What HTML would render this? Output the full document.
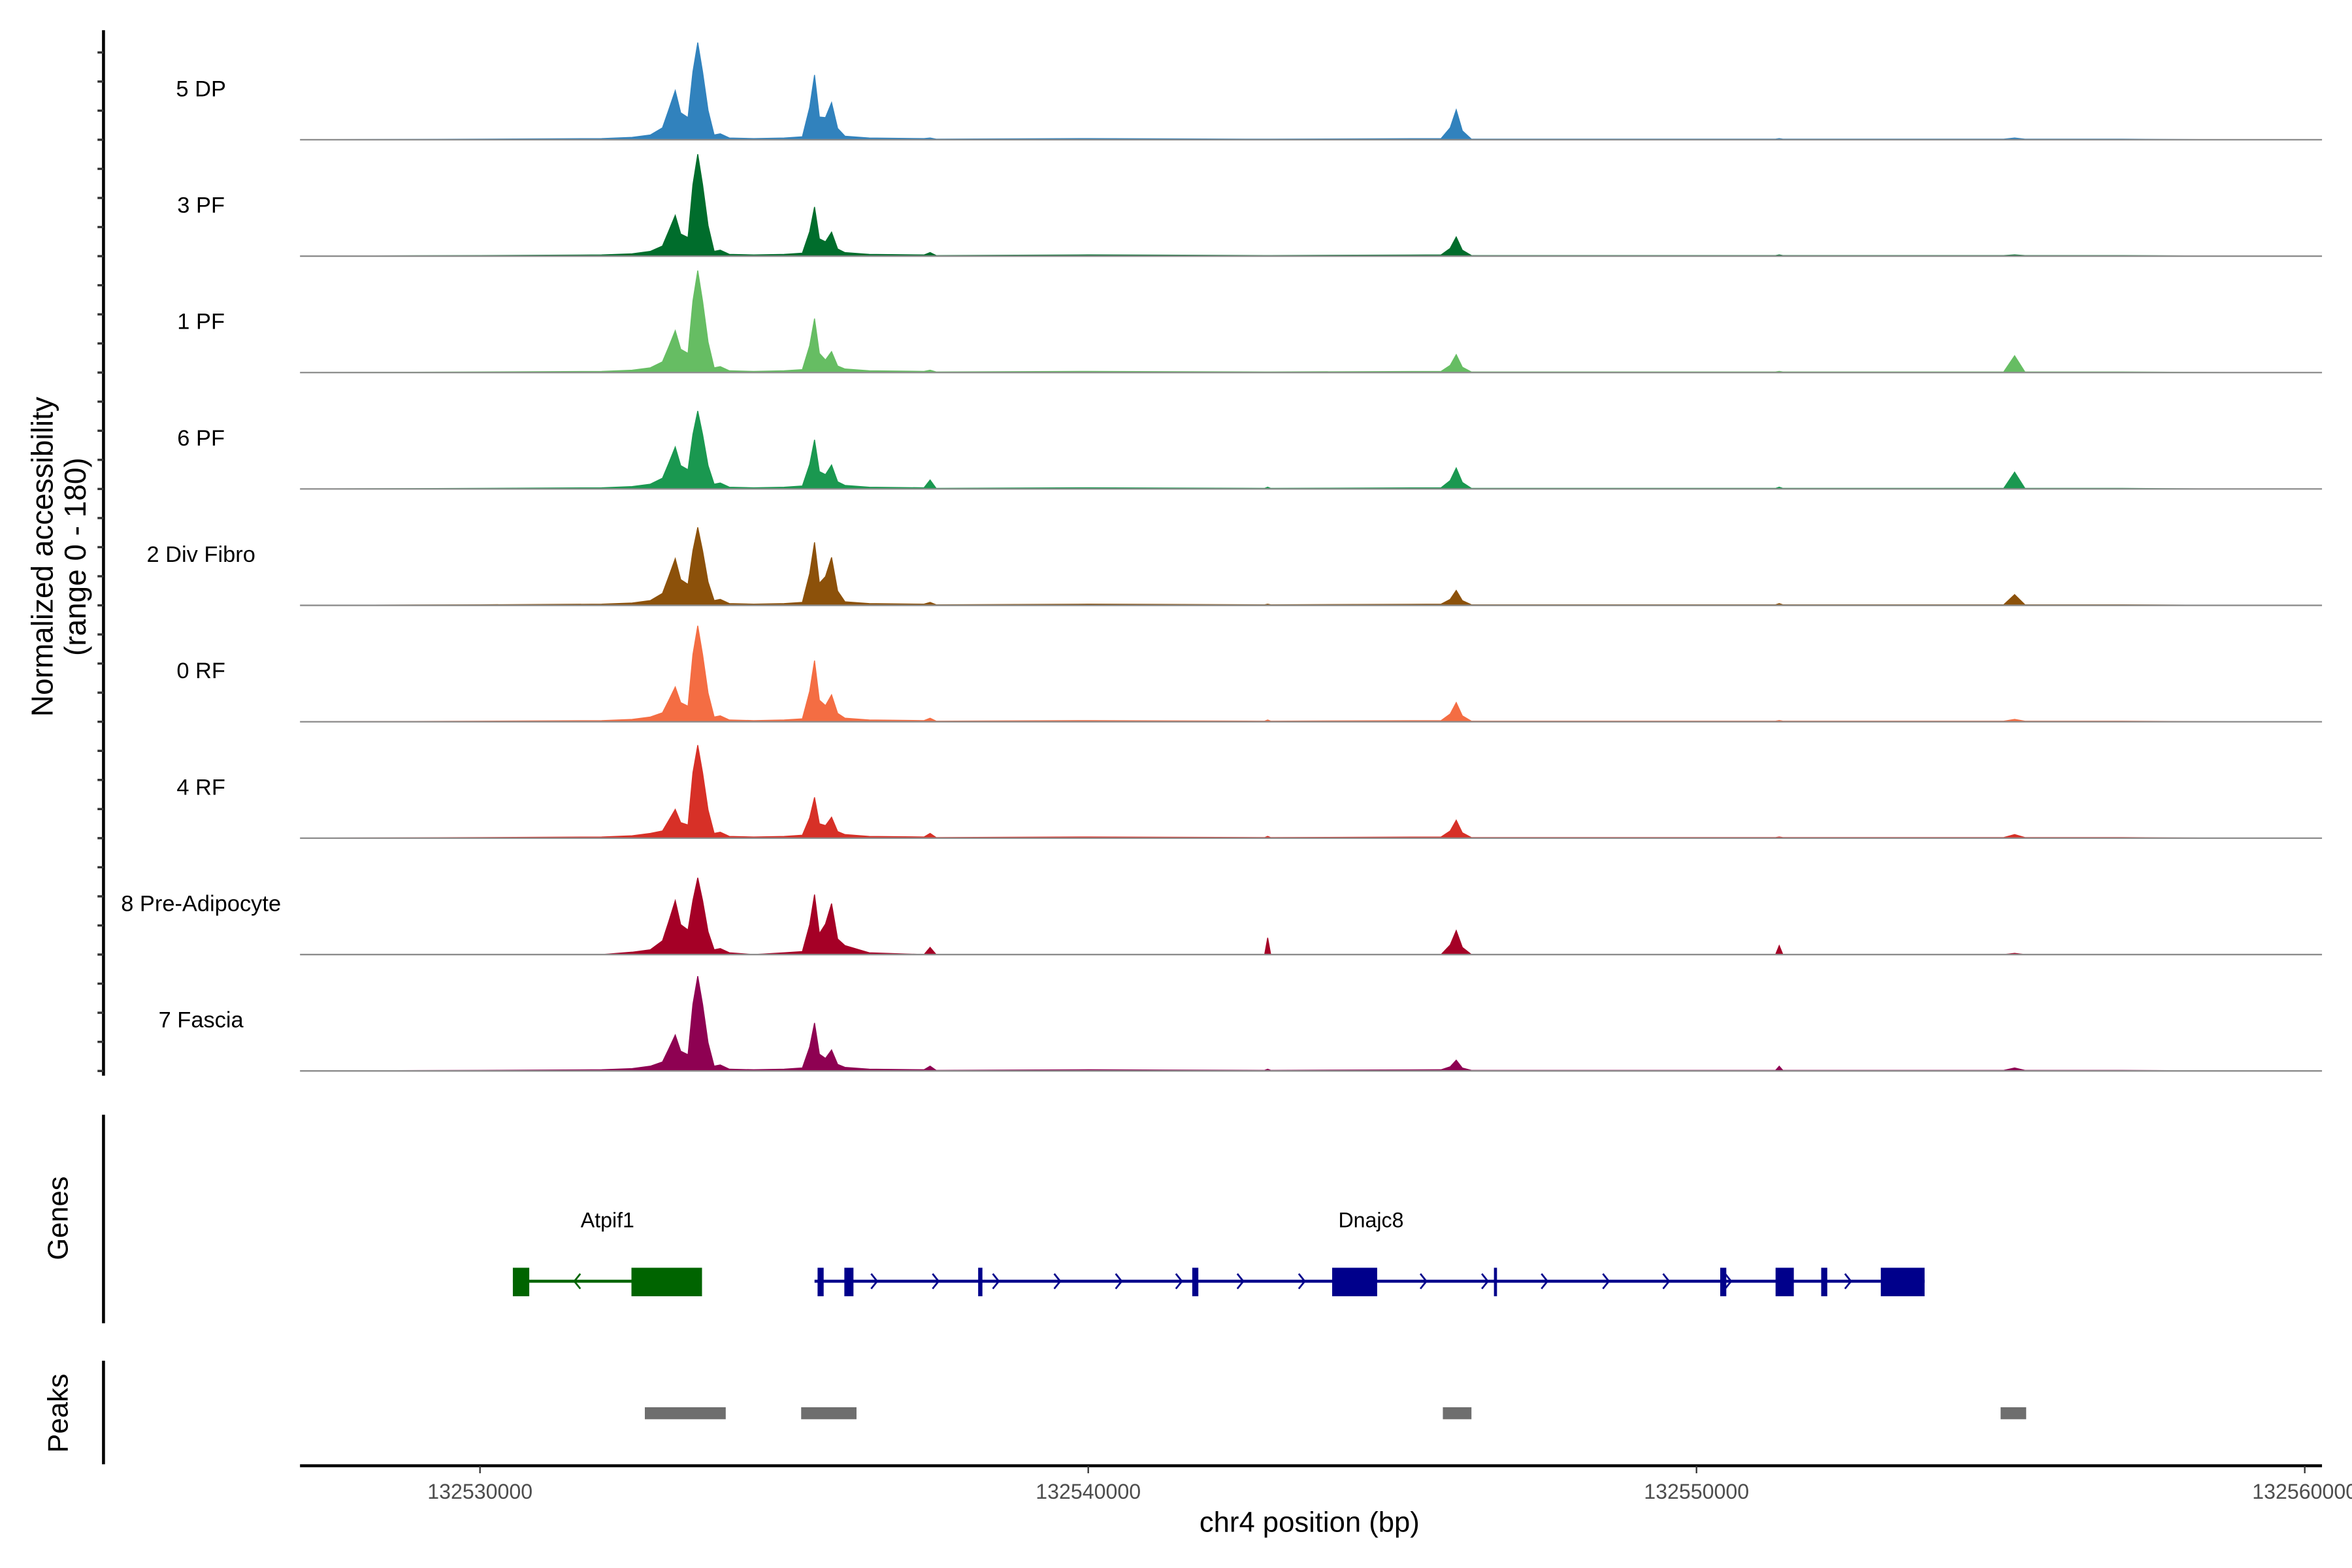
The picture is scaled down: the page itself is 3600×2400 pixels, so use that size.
<!DOCTYPE html>
<html><head><meta charset="utf-8"><style>
html,body{margin:0;padding:0;background:#fff;}
svg{display:block;font-family:"Liberation Sans",sans-serif;}
</style></head><body>
<svg id="chart" width="3600" height="2400" viewBox="0 0 1568 1045" xmlns="http://www.w3.org/2000/svg">
<rect x="0" y="0" width="1568" height="1045" fill="#fff"/>
<g id="tracks"></g>
<g id="left">
  <line x1="69" y1="20" x2="69" y2="717" stroke="#000" stroke-width="2"/>
  <text transform="translate(35,371) rotate(-90)" text-anchor="middle" font-size="20">Normalized accessibility</text>
  <text transform="translate(57,371) rotate(-90)" text-anchor="middle" font-size="20">(range 0 - 180)</text>
  <line x1="69" y1="743" x2="69" y2="882" stroke="#000" stroke-width="2"/>
  <text transform="translate(45,812) rotate(-90)" text-anchor="middle" font-size="19">Genes</text>
  <line x1="69" y1="907" x2="69" y2="976" stroke="#000" stroke-width="2"/>
  <text transform="translate(45,942) rotate(-90)" text-anchor="middle" font-size="19">Peaks</text>
</g>
<g id="genes"></g>
<g id="peaks"></g>
<g id="xaxis">
  <line x1="200" y1="977" x2="1548" y2="977" stroke="#000" stroke-width="2"/>
  <text x="873" y="1021" text-anchor="middle" font-size="19">chr4 position (bp)</text>
</g>
</svg>
<script>
// positions in kb offset from 132530000
const positions = [-2.95,0,2.0,2.5,2.8,3.0,3.1,3.21,3.3,3.42,3.5,3.58,3.66,3.75,3.85,3.95,4.1,4.5,5.0,5.3,5.42,5.5,5.58,5.68,5.78,5.88,6.0,6.4,7.3,7.4,7.5,10.0,12.9,12.95,13.0,15.8,15.95,16.05,16.15,16.3,21.3,21.36,21.42,25.05,25.23,25.4,27.0,28.75];
const trackNames = ["5 DP","3 PF","1 PF","6 PF","2 Div Fibro","0 RF","4 RF","8 Pre-Adipocyte","7 Fascia"];
const trackColors = ["#3182BD","#006D2C","#66BD63","#1A9850","#8C510A","#F46D43","#D73027","#A50026","#8E0152"];
const vDP5 = [0,1,2,4,8,20,49,82,45,37,113,162,113,49,8,10,3,2,3,5,54,108,38,37,62,19,6,3,2,3,1,2,1,1,1,2,20,50,15,1,1,2,1,1,3,1,1,0];
const vPF3 = [0,1,2,4,8,17,41,68,37,31,119,170,119,51,8,10,3,2,3,5,41,82,29,24,40,12,6,3,2,6,1,2,1,1,1,2,13,32,10,1,1,2,1,1,2,1,1,0];
const vPF1 = [0,1,2,4,8,18,42,70,39,32,119,170,119,51,8,10,3,2,3,5,45,90,32,21,35,11,6,3,2,4,1,2,1,1,1,2,12,30,9,1,1,2,1,1,28,1,1,0];
const vPF6 = [0,1,2,4,8,18,42,70,39,32,91,130,91,39,8,10,3,2,3,5,41,82,29,24,40,12,6,3,2,15,1,2,1,3,1,2,14,35,11,1,1,3,1,1,28,1,1,0];
const vDiv2 = [0,1,2,4,8,20,47,78,43,35,91,130,91,39,8,10,3,2,3,5,53,105,37,48,80,24,6,3,2,5,1,2,1,2,1,2,10,25,8,1,1,3,1,1,18,1,1,0];
const vRF0 = [0,1,2,4,8,15,35,58,32,26,112,160,112,48,8,10,3,2,3,5,51,102,36,27,45,14,6,3,2,6,1,2,1,3,1,2,13,32,10,1,1,2,1,1,4,1,1,0];
const vRF4 = [0,1,2,4,8,12,29,48,26,22,109,155,109,47,8,10,3,2,3,5,34,68,24,21,35,11,6,3,2,8,1,2,1,3,1,2,12,30,9,1,1,2,1,1,6,1,1,0];
const vPre8 = [0,0,0,4,8,23,54,90,50,41,90,128,90,38,8,10,3,0,3,5,50,100,35,51,85,26,15,3,0,12,0,0,0,28,0,0,16,40,12,0,0,15,0,0,2,0,0,0];
const vFas7 = [0,1,2,4,8,15,36,60,33,27,111,158,111,47,8,10,3,2,3,5,40,80,28,21,35,11,6,3,2,8,1,2,1,3,1,2,7,18,5,1,1,8,1,1,5,1,1,0];
const trackValues = [vDP5,vPF3,vPF1,vPF6,vDiv2,vRF0,vRF4,vPre8,vFas7];
const xTicks = [0,10,20,30];
const xTickLabels = ["132530000","132540000","132550000","132560000"];
const atpif1Exons = [[0.54,0.81],[2.49,3.65]];
const atpif1Span = [0.54,3.65];
const dnajc8Exons = [[5.55,5.65],[5.99,6.14],[8.19,8.26],[11.71,11.81],[14.01,14.75],[16.67,16.72],[20.39,20.49],[21.30,21.60],[22.05,22.15],[23.03,23.75]];
const dnajc8Span = [5.5,23.75];
const dnajc8Arrows = [6.48,7.49,8.48,9.49,10.5,11.49,12.5,13.51,15.51,16.52,17.5,18.51,19.5,20.52,22.49];
const atpif1Arrows = [1.6];
const peakRanges = [[2.71,4.04],[5.28,6.19],[15.83,16.30],[25.0,25.42]];

const NS="http://www.w3.org/2000/svg";
const xs = kb => 320 + kb*40.55;
const ys = (v,base) => base - v*0.4;
function mk(tag, attrs, parent){const e=document.createElementNS(NS,tag);for(const k in attrs)e.setAttribute(k,attrs[k]);parent.appendChild(e);return e;}

const tracks=document.getElementById('tracks');
trackValues.forEach((vals,i)=>{
  const base = 93 + i*77.6;
  const g=mk('g',{},tracks);
  
  
  let d='M'+xs(positions[0])+','+base;
  positions.forEach((p,j)=>{d+=' L'+xs(p).toFixed(2)+','+ys(vals[j],base).toFixed(2);});
  d+=' L'+xs(positions[positions.length-1])+','+base+' Z';
  const area=mk('path',{d:d,fill:trackColors[i],stroke:trackColors[i],'stroke-width':0.6},g);
  
  
  const bl=mk('line',{x1:200,y1:base,x2:1548,y2:base,stroke:'#8c8c8c','stroke-width':1},g);
  
  
  const t=mk('text',{x:134,y:base-29,'text-anchor':'middle','font-size':15},g);
  t.textContent=trackNames[i];
  
  
});

const genes=document.getElementById('genes');
function drawGene(span,exons,arrows,color,dir,label,lx){
  const g=mk('g',{},genes);
  
  
  mk('line',{x1:xs(span[0]),y1:854,x2:xs(span[1]),y2:854,stroke:color,'stroke-width':2},g);
  exons.forEach(e=>{const r=mk('rect',{x:xs(e[0]),y:845,width:Math.max(2,xs(e[1])-xs(e[0])),height:19,fill:color},g);
    
    });
  arrows.forEach(a=>{const x=xs(a);const p=mk('path',{d:dir>0?`M${x-2},849 L${x+2},854 L${x-2},859`:`M${x+2},849 L${x-2},854 L${x+2},859`,fill:'none',stroke:color,'stroke-width':1.2},g);
    
    });
  const t=mk('text',{x:lx,y:818,'text-anchor':'middle','font-size':14},g);
  t.textContent=label;
  
  
}
drawGene(atpif1Span,atpif1Exons,atpif1Arrows,'#006400',-1,'Atpif1',405);
drawGene(dnajc8Span,dnajc8Exons,dnajc8Arrows,'#00008B',1,'Dnajc8',914);

const peaks=document.getElementById('peaks');
peakRanges.forEach(p=>{const r=mk('rect',{x:xs(p[0]),y:938,width:xs(p[1])-xs(p[0]),height:8,fill:'#6e6e6e'},peaks);
  
  });

const xa=document.getElementById('xaxis');
xTicks.forEach((k,i)=>{
  const x=xs(k);
  const l=mk('line',{x1:x,y1:977,x2:x,y2:982,stroke:'#333','stroke-width':1},xa);
  
  
  const t=mk('text',{x:x,y:999,'text-anchor':'middle','font-size':14,fill:'#4d4d4d'},xa);
  t.textContent=xTickLabels[i];
  
  
});

const left=document.getElementById('left');
for(let y=34.8;y<=717;y+=19.4){
  const l=mk('line',{x1:65,y1:y,x2:69,y2:y,stroke:'#333','stroke-width':1.5},left);
  
  
}
</script>
</body></html>
